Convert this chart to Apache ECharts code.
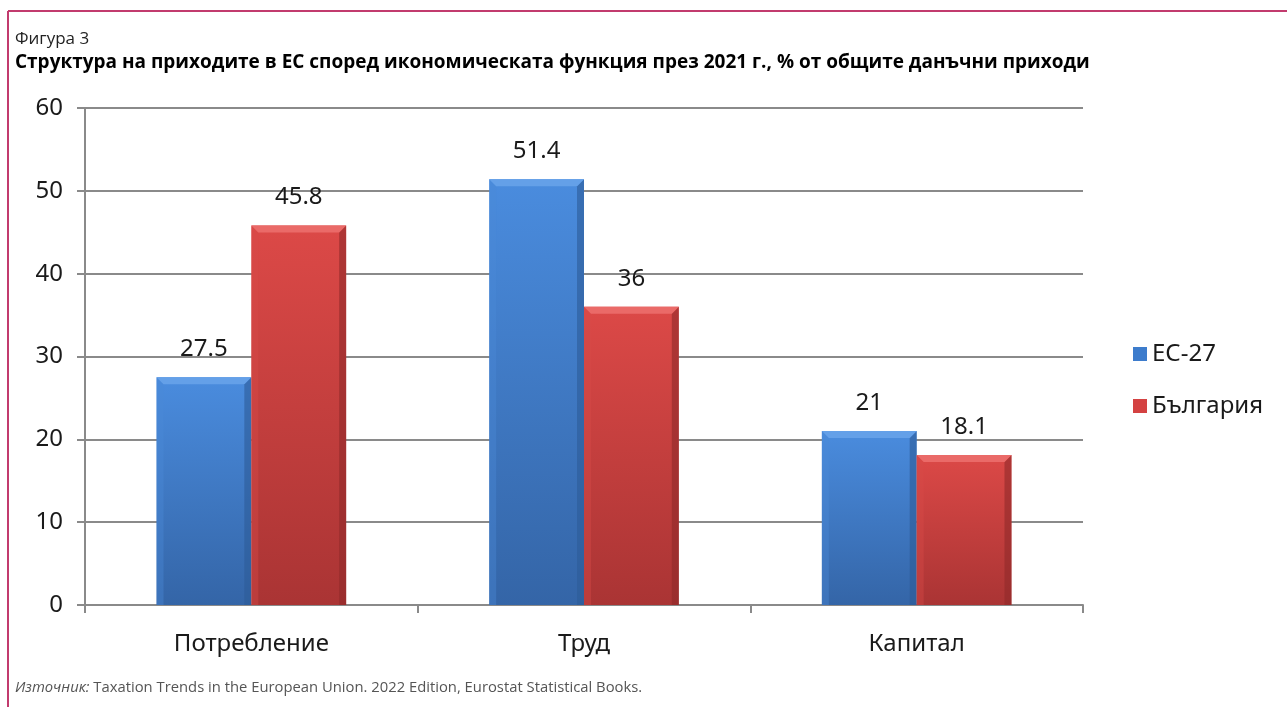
<!DOCTYPE html>
<html>
<head>
<meta charset="utf-8">
<script src="https://cdn.jsdelivr.net/npm/echarts@6/dist/echarts.min.js"></script>
<style>
  html, body { margin: 0; padding: 0; background: #fff; }
  #chart { width: 1287px; height: 707px; }
</style>
</head>
<body>
<div id="chart"></div>
<script>
// Revenue structure by economic function, 2021, % of total tax revenue
const categories = ['Потребление', 'Труд', 'Капитал'];
const seriesNames = ['ЕС-27', 'България'];
const euValues = [27.5, 51.4, 21];
const bgValues = [45.8, 36, 18.1];
const yTicks = { min: 0, max: 60, interval: 10 };

const figureLabel = 'Фигура 3';
const titleText = 'Структура на приходите в ЕС според икономическата функция през 2021 г., % от общите данъчни приходи';
const sourceLead = 'Източник:';
const sourceText = ' Taxation Trends in the European Union. 2022 Edition, Eurostat Statistical Books.';

const chartFont = '"Noto Sans", "Open Sans", sans-serif';
const headFont = '"Open Sans", "Noto Sans", sans-serif';

// Shading for the bevelled bars: body gradient, top / left / right facets
const palettes = [
  { flat: '#3d7ccc', top: '#4a8cde', bottom: '#3465a7', cap: '#64a0e8', left: '#4a8ad8', right: '#2d5b98' },
  { flat: '#d44242', top: '#dc4947', bottom: '#aa3434', cap: '#ea6a68', left: '#d84a48', right: '#8f2a2a' }
];
const barShare = 0.285;   // each bar's share of the category band
const bevel = 7;

function bevelBar(seriesIdx) {
  const pal = palettes[seriesIdx];
  return function (params, api) {
    const cat = api.value(0);
    const val = api.value(1);
    const band = api.size([1, 0])[0];
    const bw = band * barShare;
    const base = api.coord([cat, 0]);
    const top = api.coord([cat, val]);
    const x0 = seriesIdx === 0 ? base[0] - bw : base[0];
    const x1 = x0 + bw;
    const yT = top[1];
    const yB = base[1];
    const b = Math.min(bevel, (yB - yT) / 2);
    return {
      type: 'group',
      children: [
        {
          type: 'rect',
          shape: { x: x0, y: yT, width: bw, height: yB - yT },
          style: {
            fill: {
              type: 'linear', x: 0, y: 0, x2: 0, y2: 1,
              colorStops: [{ offset: 0, color: pal.top }, { offset: 1, color: pal.bottom }]
            }
          }
        },
        {
          type: 'polygon',
          shape: { points: [[x0, yT], [x0 + b, yT + b], [x0 + b, yB], [x0, yB]] },
          style: { fill: pal.left, opacity: 0.4 }
        },
        {
          type: 'polygon',
          shape: { points: [[x1, yT], [x1, yB], [x1 - b, yB], [x1 - b, yT + b]] },
          style: { fill: pal.right, opacity: 0.6 }
        },
        {
          type: 'polygon',
          shape: { points: [[x0, yT], [x1, yT], [x1 - b, yT + b], [x0 + b, yT + b]] },
          style: { fill: pal.cap }
        },
        {
          type: 'text',
          style: {
            text: String(val),
            x: (x0 + x1) / 2,
            y: yT - 16,
            align: 'center',
            verticalAlign: 'bottom',
            fill: '#1a1a1a',
            font: '24px ' + chartFont
          }
        }
      ]
    };
  };
}

function toPoints(values) {
  return values.map((v, i) => [i, v]);
}

const chart = echarts.init(document.getElementById('chart'), null, { renderer: 'canvas' });

chart.setOption({
  animation: false,
  textStyle: { fontFamily: chartFont },
  title: [
    {
      text: figureLabel,
      left: 10, top: 26,
      textStyle: { fontSize: 17, fontWeight: 'normal', color: '#222', fontFamily: headFont }
    },
    {
      text: titleText,
      left: 10, top: 48,
      textStyle: { fontSize: 19, fontWeight: 'bold', color: '#000', fontFamily: headFont }
    },
    {
      text: '{i|' + sourceLead + '}{n|' + sourceText + '}',
      left: 10, top: 675,
      textStyle: {
        rich: {
          i: { fontSize: 14.8, fontStyle: 'italic', fontWeight: 'normal', color: '#555', fontFamily: headFont },
          n: { fontSize: 14.8, fontWeight: 'normal', color: '#555', fontFamily: headFont }
        }
      }
    }
  ],
  graphic: [
    { type: 'line', shape: { x1: 8, y1: 11, x2: 1287, y2: 11 }, style: { stroke: '#c23b6e', lineWidth: 2 } },
    { type: 'line', shape: { x1: 8, y1: 11, x2: 8, y2: 707 }, style: { stroke: '#c23b6e', lineWidth: 2 } }
  ],
  legend: {
    orient: 'vertical',
    left: 1128, top: 337,
    itemWidth: 14, itemHeight: 14,
    itemGap: 28,
    icon: 'rect',
    textStyle: { fontSize: 24, color: '#1a1a1a', fontFamily: chartFont },
    data: seriesNames
  },
  grid: { left: 85, right: 204, top: 108, bottom: 102, containLabel: false },
  xAxis: {
    type: 'category',
    data: categories,
    axisLine: { lineStyle: { color: '#8a8a8a', width: 2 } },
    axisTick: { show: true, length: 8, alignWithLabel: false, lineStyle: { color: '#8a8a8a', width: 2 } },
    axisLabel: { fontSize: 24, color: '#1a1a1a', margin: 27, fontFamily: chartFont }
  },
  yAxis: {
    type: 'value',
    min: yTicks.min, max: yTicks.max, interval: yTicks.interval,
    axisLine: { show: true, lineStyle: { color: '#8a8a8a', width: 2 } },
    axisTick: { show: true, length: 8, lineStyle: { color: '#8a8a8a', width: 2 } },
    splitLine: { lineStyle: { color: '#8a8a8a', width: 2 } },
    axisLabel: { fontSize: 24, color: '#1a1a1a', margin: 22, fontFamily: chartFont }
  },
  series: [
    {
      name: seriesNames[0],
      type: 'custom',
      data: toPoints(euValues),
      encode: { x: 0, y: 1 },
      itemStyle: { color: palettes[0].flat },
      renderItem: bevelBar(0)
    },
    {
      name: seriesNames[1],
      type: 'custom',
      data: toPoints(bgValues),
      encode: { x: 0, y: 1 },
      itemStyle: { color: palettes[1].flat },
      renderItem: bevelBar(1)
    }
  ]
});
</script>
</body>
</html>
